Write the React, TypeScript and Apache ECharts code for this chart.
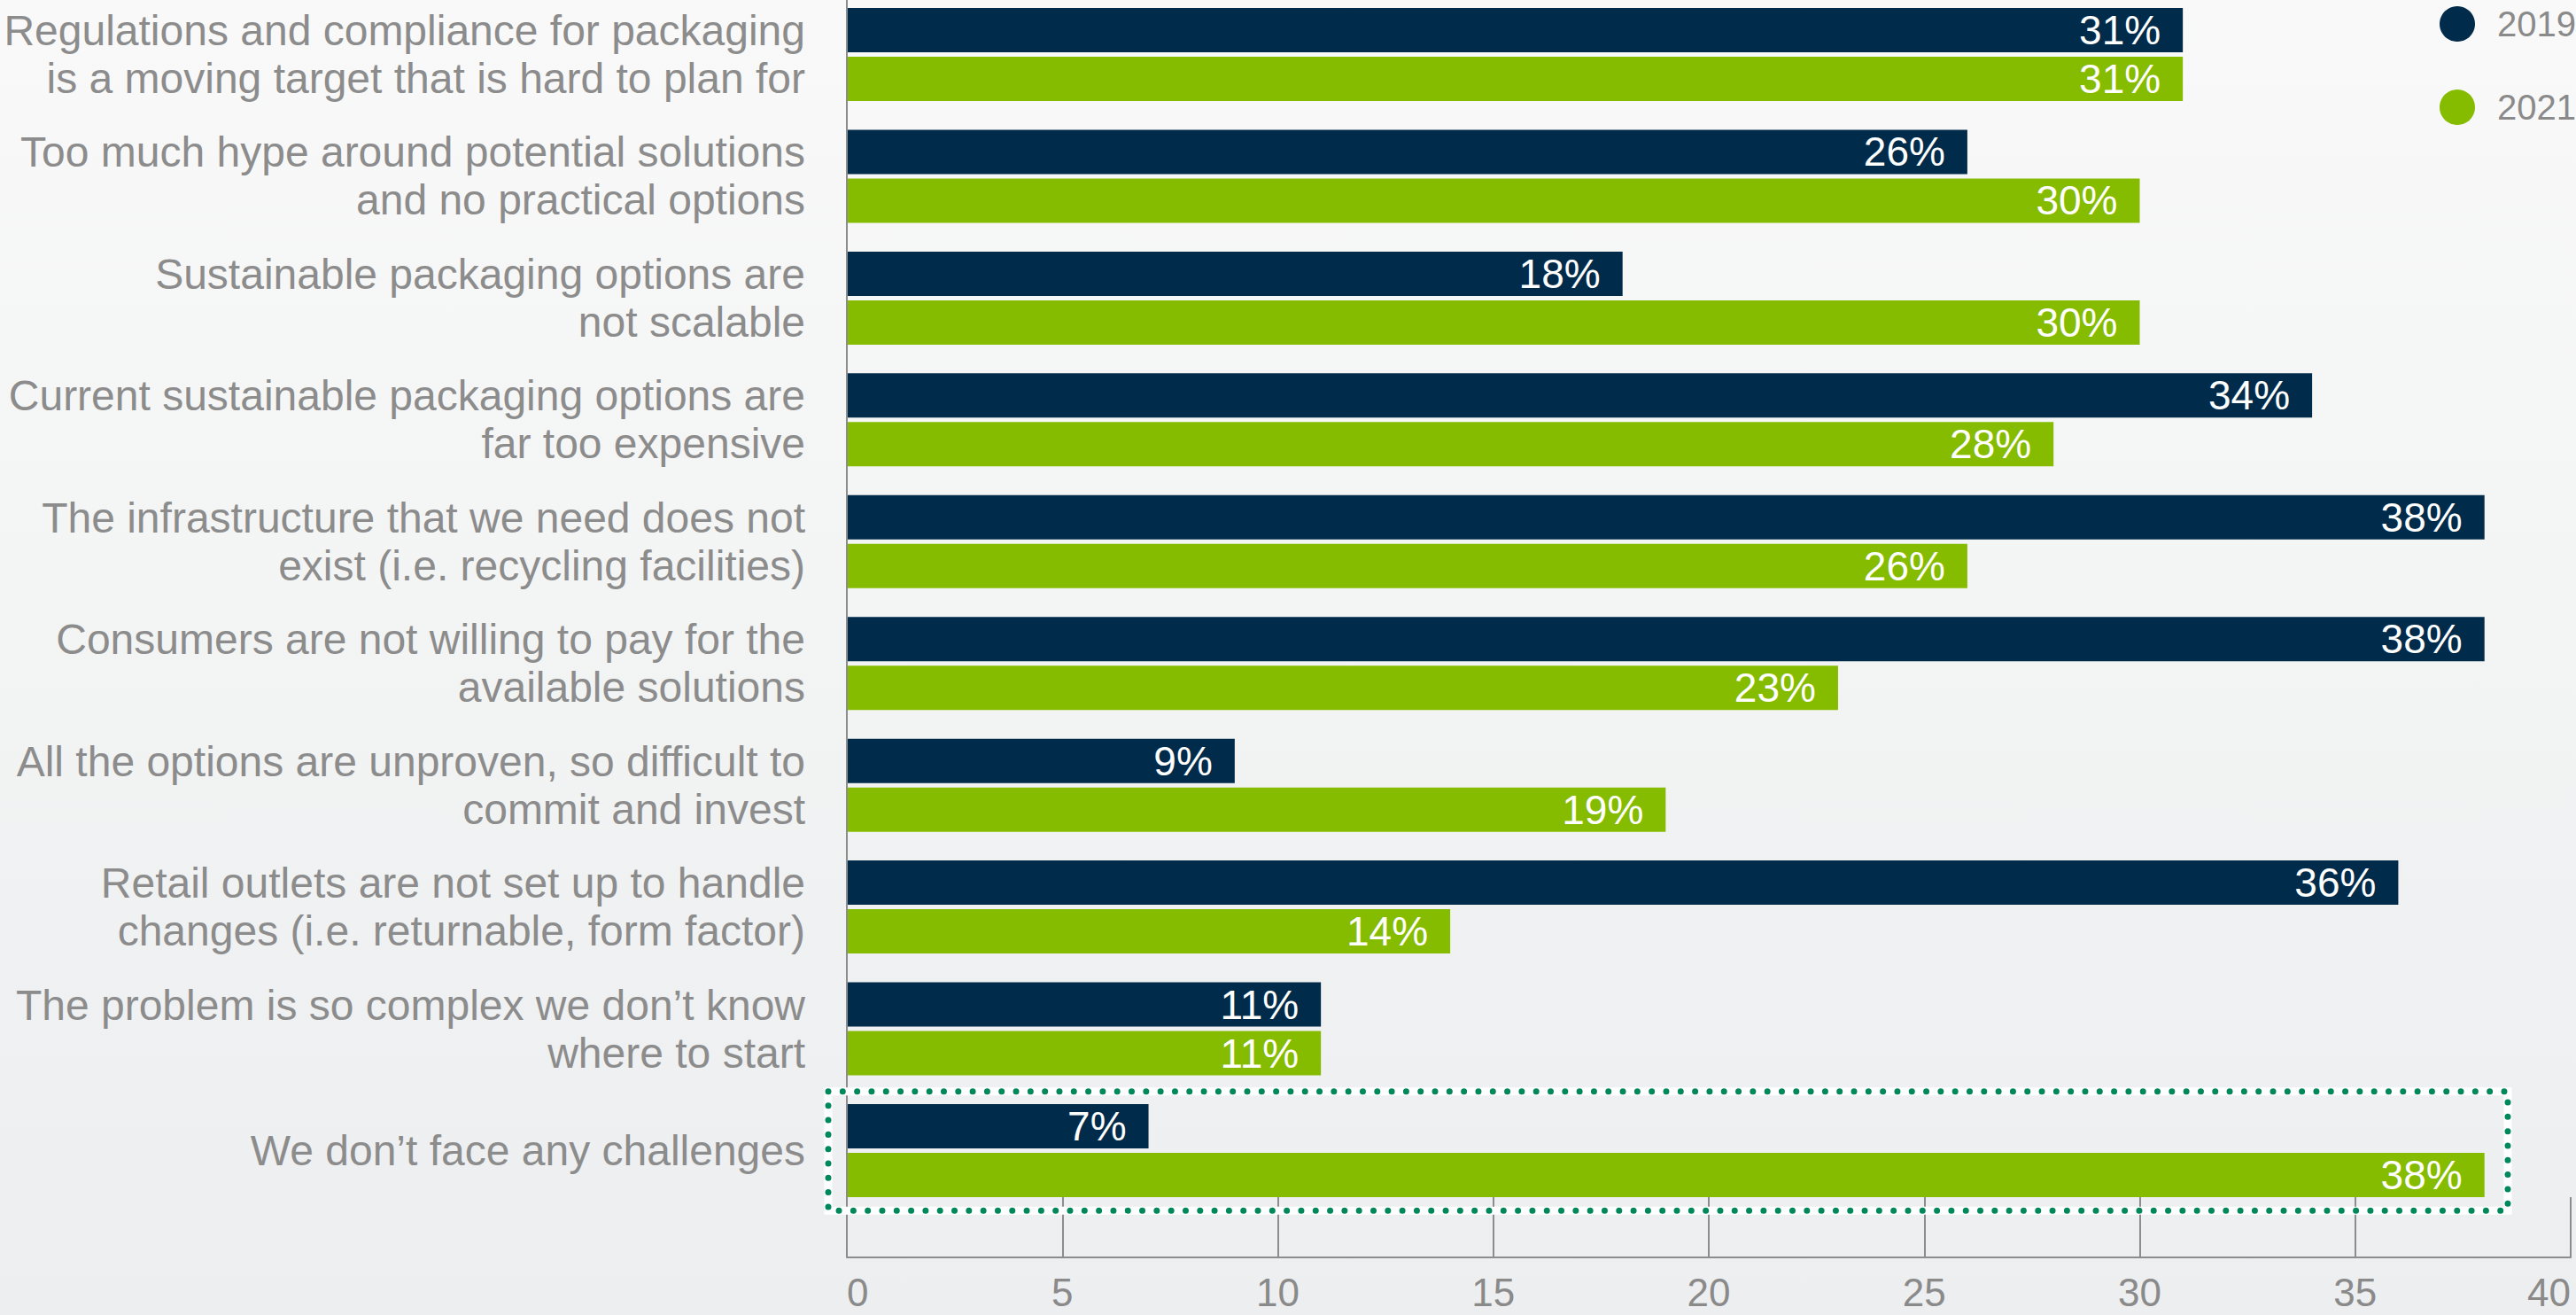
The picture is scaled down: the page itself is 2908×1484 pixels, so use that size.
import React, { useEffect, useRef } from "react";
import * as echarts from "echarts";

const categories = [
  "Regulations and compliance for packaging\nis a moving target that is hard to plan for",
  "Too much hype around potential solutions\nand no practical options",
  "Sustainable packaging options are\nnot scalable",
  "Current sustainable packaging options are\nfar too expensive",
  "The infrastructure that we need does not\nexist (i.e. recycling facilities)",
  "Consumers are not willing to pay for the\navailable solutions",
  "All the options are unproven, so difficult to\ncommit and invest",
  "Retail outlets are not set up to handle\nchanges (i.e. returnable, form factor)",
  "The problem is so complex we don’t know\nwhere to start",
  "We don’t face any challenges",
];
const seriesNames = ["2019", "2021"];
const values2019 = [31, 26, 18, 34, 38, 38, 9, 36, 11, 7];
const values2021 = [31, 30, 30, 28, 26, 23, 19, 14, 11, 38];
const axisMin = 0;
const axisMax = 40;
const axisInterval = 5;

const W = 2908;
const H = 1484;
const FONT = "'Liberation Sans', Arial, Helvetica, sans-serif";
const NAVY = "#012b4a";
const GREEN = "#86bc00";
const GRAY = "#8a8a8a";

const gridLeft = 956;
const gridRightEdge = 2902;
const gridTop = -7.2;
const gridHeight = 1374.4;
const axisLineY = 1419;

export default function App() {
  const ref = useRef<HTMLDivElement>(null);
  useEffect(() => {
    document.body.style.margin = "0";
    const chart = echarts.init(ref.current!, null, { renderer: "svg", width: W, height: H });
    const band = gridHeight / categories.length;
    const lastTop = gridTop + band * (categories.length - 1);
    const boxLeft = gridLeft - 21;
    const boxRight = 2831;
    const boxTop = lastTop + 2;
    const boxBottom = lastTop + band - 1;
    const labelStyle = {
      show: true,
      position: "insideRight" as const,
      distance: 25,
      formatter: "{c}%",
      color: "#ffffff",
      fontSize: 46,
      fontFamily: FONT,
    };
    chart.setOption({
      animation: false,
      backgroundColor: "transparent",
      textStyle: { fontFamily: FONT },
      grid: {
        left: gridLeft,
        top: gridTop,
        width: gridRightEdge - gridLeft,
        height: gridHeight,
        containLabel: false,
        outerBoundsMode: "none",
      },
      legend: {
        orient: "vertical",
        left: 2754,
        top: 7,
        padding: 0,
        itemWidth: 40,
        itemHeight: 40,
        itemGap: 54,
        icon: "circle",
        data: seriesNames,
        textStyle: { fontSize: 40, color: GRAY, fontFamily: FONT, padding: [0, 0, 0, 20] },
      },
      xAxis: {
        type: "value",
        min: axisMin,
        max: axisMax,
        interval: axisInterval,
        offset: axisLineY - (gridTop + gridHeight),
        axisLine: { show: true, lineStyle: { color: "#8c8c8c", width: 2 } },
        axisTick: { show: true, inside: true, length: 68, lineStyle: { color: "#8c8c8c", width: 2 } },
        splitLine: { show: false },
        axisLabel: {
          fontSize: 44,
          color: GRAY,
          margin: 17,
          fontFamily: FONT,
          alignMinLabel: "left",
          alignMaxLabel: "right",
        },
      },
      yAxis: {
        type: "category",
        data: categories,
        inverse: true,
        axisLine: { show: false },
        axisTick: { show: false },
        axisLabel: {
          fontSize: 48,
          lineHeight: 54,
          color: "#8c8c8c",
          margin: 47,
          fontFamily: FONT,
        },
      },
      series: [
        {
          type: "bar",
          name: seriesNames[0],
          data: values2019,
          barWidth: 50,
          barGap: "10%",
          itemStyle: { color: NAVY },
          label: labelStyle,
          emphasis: { disabled: true },
        },
        {
          type: "bar",
          name: seriesNames[1],
          data: values2021,
          barWidth: 50,
          barGap: "10%",
          itemStyle: { color: GREEN },
          label: labelStyle,
          emphasis: { disabled: true },
        },
      ],
      graphic: [
        {
          type: "line",
          z: 5,
          shape: { x1: gridLeft, y1: 0, x2: gridLeft, y2: axisLineY },
          style: { stroke: "#8c8c8c", lineWidth: 2 },
        },
        {
          type: "rect",
          z: 6,
          shape: { x: boxLeft, y: boxTop, width: boxRight - boxLeft, height: boxBottom - boxTop },
          style: { fill: "none", stroke: "#ffffff", lineWidth: 9 },
        },
        {
          type: "rect",
          z: 7,
          shape: { x: boxLeft, y: boxTop, width: boxRight - boxLeft, height: boxBottom - boxTop },
          style: { fill: "none", stroke: "#00875a", lineWidth: 7, lineDash: [0.01, 16.3], lineCap: "round" },
        },
      ],
    });
    return () => chart.dispose();
  }, []);
  return (
    <div
      ref={ref}
      style={{
        position: "absolute",
        left: 0,
        top: 0,
        width: W,
        height: H,
        background: "linear-gradient(180deg, #f9f9f9 0%, #f2f3f3 55%, #eceef0 100%)",
      }}
    />
  );
}
